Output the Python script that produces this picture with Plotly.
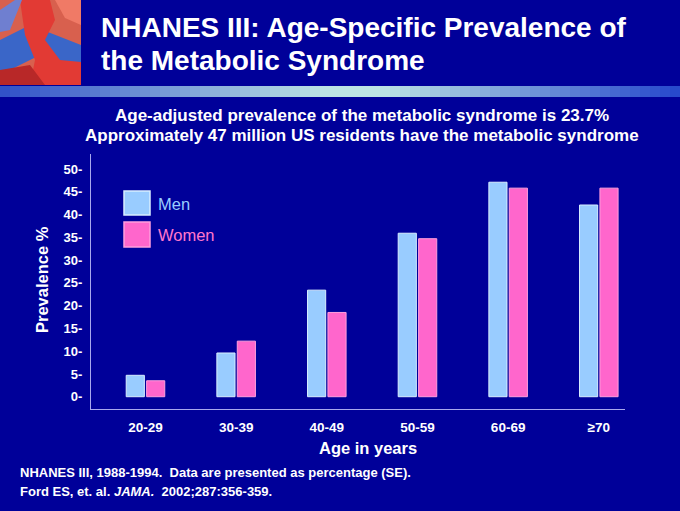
import plotly.graph_objects as go

# data
age_groups = ["20-29", "30-39", "40-49", "50-59", "60-69", "≥70"]
men = [4.7, 9.6, 23.4, 35.9, 47.1, 42.1]
women = [3.5, 12.2, 18.5, 34.7, 45.8, 45.8]
y_ticks = [0, 5, 10, 15, 20, 25, 30, 35, 40, 45, 50]
y_tick_labels = [f"{v}-" for v in y_ticks]

title_lines = ["NHANES III: Age-Specific Prevalence of", "the Metabolic Syndrome"]
subtitle_lines = [
    "Age-adjusted prevalence of the metabolic syndrome is 23.7%",
    "Approximately 47 million US residents have the metabolic syndrome",
]
notes = [
    "NHANES III, 1988-1994.  Data are presented as percentage (SE).",
    "Ford ES, et. al. <i>JAMA.</i>  2002;287:356-359.",
]

W, H = 680, 511
L, R, T, B = 91, 55, 154, 102
BG = "#000099"
MEN_COLOR = "#99CCFF"
WOMEN_COLOR = "#FF66CC"
FONT = "Liberation Sans, Arial, sans-serif"


def px(x):
    return (x - L) / (W - L - R)


def py(y):
    return (H - B - y) / (H - T - B)


def blend(c1, c2, t):
    a = [int(c1[i:i + 2], 16) for i in (1, 3, 5)]
    b = [int(c2[i:i + 2], 16) for i in (1, 3, 5)]
    return "#" + "".join(f"{round(a[i] + (b[i] - a[i]) * t):02x}" for i in range(3))


fig = go.Figure()
fig.add_trace(go.Bar(x=age_groups, y=men, name="Men",
                     marker=dict(color=MEN_COLOR, line=dict(color="#D8EEFF", width=1))))
fig.add_trace(go.Bar(x=age_groups, y=women, name="Women",
                     marker=dict(color=WOMEN_COLOR, line=dict(color="#FF9FDD", width=1))))

shapes = []
# gradient stripe under the title banner
steps = 68
for i in range(steps):
    x0 = i * W / steps
    t = (x0 + W / steps / 2) / W
    if t < 0.48:
        c = blend("#2F4FC8", "#BDE4E4", t / 0.48)
    elif t < 0.56:
        c = "#BDE4E4"
    else:
        c = blend("#BDE4E4", "#2446CC", (t - 0.56) / 0.44)
    shapes.append(dict(type="rect", xref="paper", yref="paper", x0=px(x0), x1=px(x0 + W / steps + 0.5),
                       y0=py(97), y1=py(86), fillcolor=c, line=dict(width=0), layer="below"))

# decorative artwork in the top-left corner
art = [
    ("rect", "#D8604E", None),
    ("path", "#3A66C8", "M 0 40 L 30 25 L 81 45 L 81 70 L 40 55 L 0 75 Z"),
    ("path", "#E23A34", "M 20 0 L 50 0 L 55 20 L 45 40 L 60 60 L 81 62 L 81 85 L 30 85 L 35 60 L 25 35 Z"),
    ("path", "#B82828", "M 0 70 L 30 65 L 45 85 L 0 85 Z"),
    ("path", "#6F7FD0", "M 0 10 L 15 0 L 22 0 L 10 30 L 0 32 Z"),
    ("path", "#F07A66", "M 55 0 L 81 0 L 81 25 L 65 18 Z"),
]
for kind, color, path in art:
    if kind == "rect":
        shapes.append(dict(type="rect", xref="paper", yref="paper", x0=px(0), x1=px(81),
                           y0=py(85), y1=py(0), fillcolor=color, line=dict(width=0), layer="below"))
    else:
        pts = path.split()
        out = []
        i = 0
        while i < len(pts):
            if pts[i] in ("M", "L"):
                out.append(f"{pts[i]} {px(float(pts[i + 1])):.5f},{py(float(pts[i + 2])):.5f}")
                i += 3
            else:
                out.append(pts[i])
                i += 1
        shapes.append(dict(type="path", xref="paper", yref="paper", path=" ".join(out),
                           fillcolor=color, line=dict(width=0), layer="below"))

# legend swatches
for (y0, y1), color, edge in [((191, 215), MEN_COLOR, "#D8EEFF"), ((222, 247), WOMEN_COLOR, "#FF9FDD")]:
    shapes.append(dict(type="rect", xref="paper", yref="paper", x0=px(124), x1=px(150),
                       y0=py(y1), y1=py(y0), fillcolor=color, line=dict(color=edge, width=1.5)))

annotations = []
for text, y in zip(title_lines, [27, 60]):
    annotations.append(dict(text=f"<b>{text}</b>", x=px(99), y=py(y), xref="paper", yref="paper",
                            xanchor="left", yanchor="middle", showarrow=False,
                            font=dict(family=FONT, size=28, color="white")))
for text, y in zip(subtitle_lines, [115, 135]):
    annotations.append(dict(text=f"<b>{text}</b>", x=px(362), y=py(y), xref="paper", yref="paper",
                            xanchor="center", yanchor="middle", showarrow=False,
                            font=dict(family=FONT, size=17, color="white")))
for text, y, color in zip(["Men", "Women"], [204, 235], [MEN_COLOR, "#FF77CC"]):
    annotations.append(dict(text=text, x=px(156), y=py(y), xref="paper", yref="paper",
                            xanchor="left", yanchor="middle", showarrow=False,
                            font=dict(family=FONT, size=16.5, color=color)))
annotations.append(dict(text="<b>Prevalence %</b>", x=px(42), y=py(280), xref="paper", yref="paper",
                        xanchor="center", yanchor="middle", textangle=-90, showarrow=False,
                        font=dict(family=FONT, size=16.5, color="white")))
annotations.append(dict(text="<b>Age in years</b>", x=px(368), y=py(448), xref="paper", yref="paper",
                        xanchor="center", yanchor="middle", showarrow=False,
                        font=dict(family=FONT, size=16.5, color="white")))
for text, y in zip(notes, [472, 491]):
    annotations.append(dict(text=f"<b>{text}</b>", x=px(18), y=py(y), xref="paper", yref="paper",
                            xanchor="left", yanchor="middle", showarrow=False,
                            font=dict(family=FONT, size=13, color="white")))

fig.update_layout(
    width=W, height=H,
    margin=dict(l=L, r=R, t=T, b=B),
    paper_bgcolor=BG, plot_bgcolor=BG,
    barmode="group", bargap=0.55, bargroupgap=0.11,
    showlegend=False,
    shapes=shapes,
    annotations=annotations,
)
fig.update_xaxes(
    range=[-0.601, 5.289], showgrid=False, zeroline=False,
    showline=True, linecolor="#A8A8EE", linewidth=1, ticks="",
    tickfont=dict(family=FONT, size=13.5, color="white", weight="bold"),
    ticklabelstandoff=6,
)
fig.update_yaxes(
    range=[-2.7, 53.3], showgrid=False, zeroline=False,
    showline=True, linecolor="#A8A8EE", linewidth=1, ticks="",
    tickvals=y_ticks, ticktext=y_tick_labels,
    tickfont=dict(family=FONT, size=13, color="white", weight="bold"),
    ticklabelstandoff=5,
)

fig.write_html("out.html", config={"displayModeBar": False},
               post_script="document.body.style.margin='0';")
